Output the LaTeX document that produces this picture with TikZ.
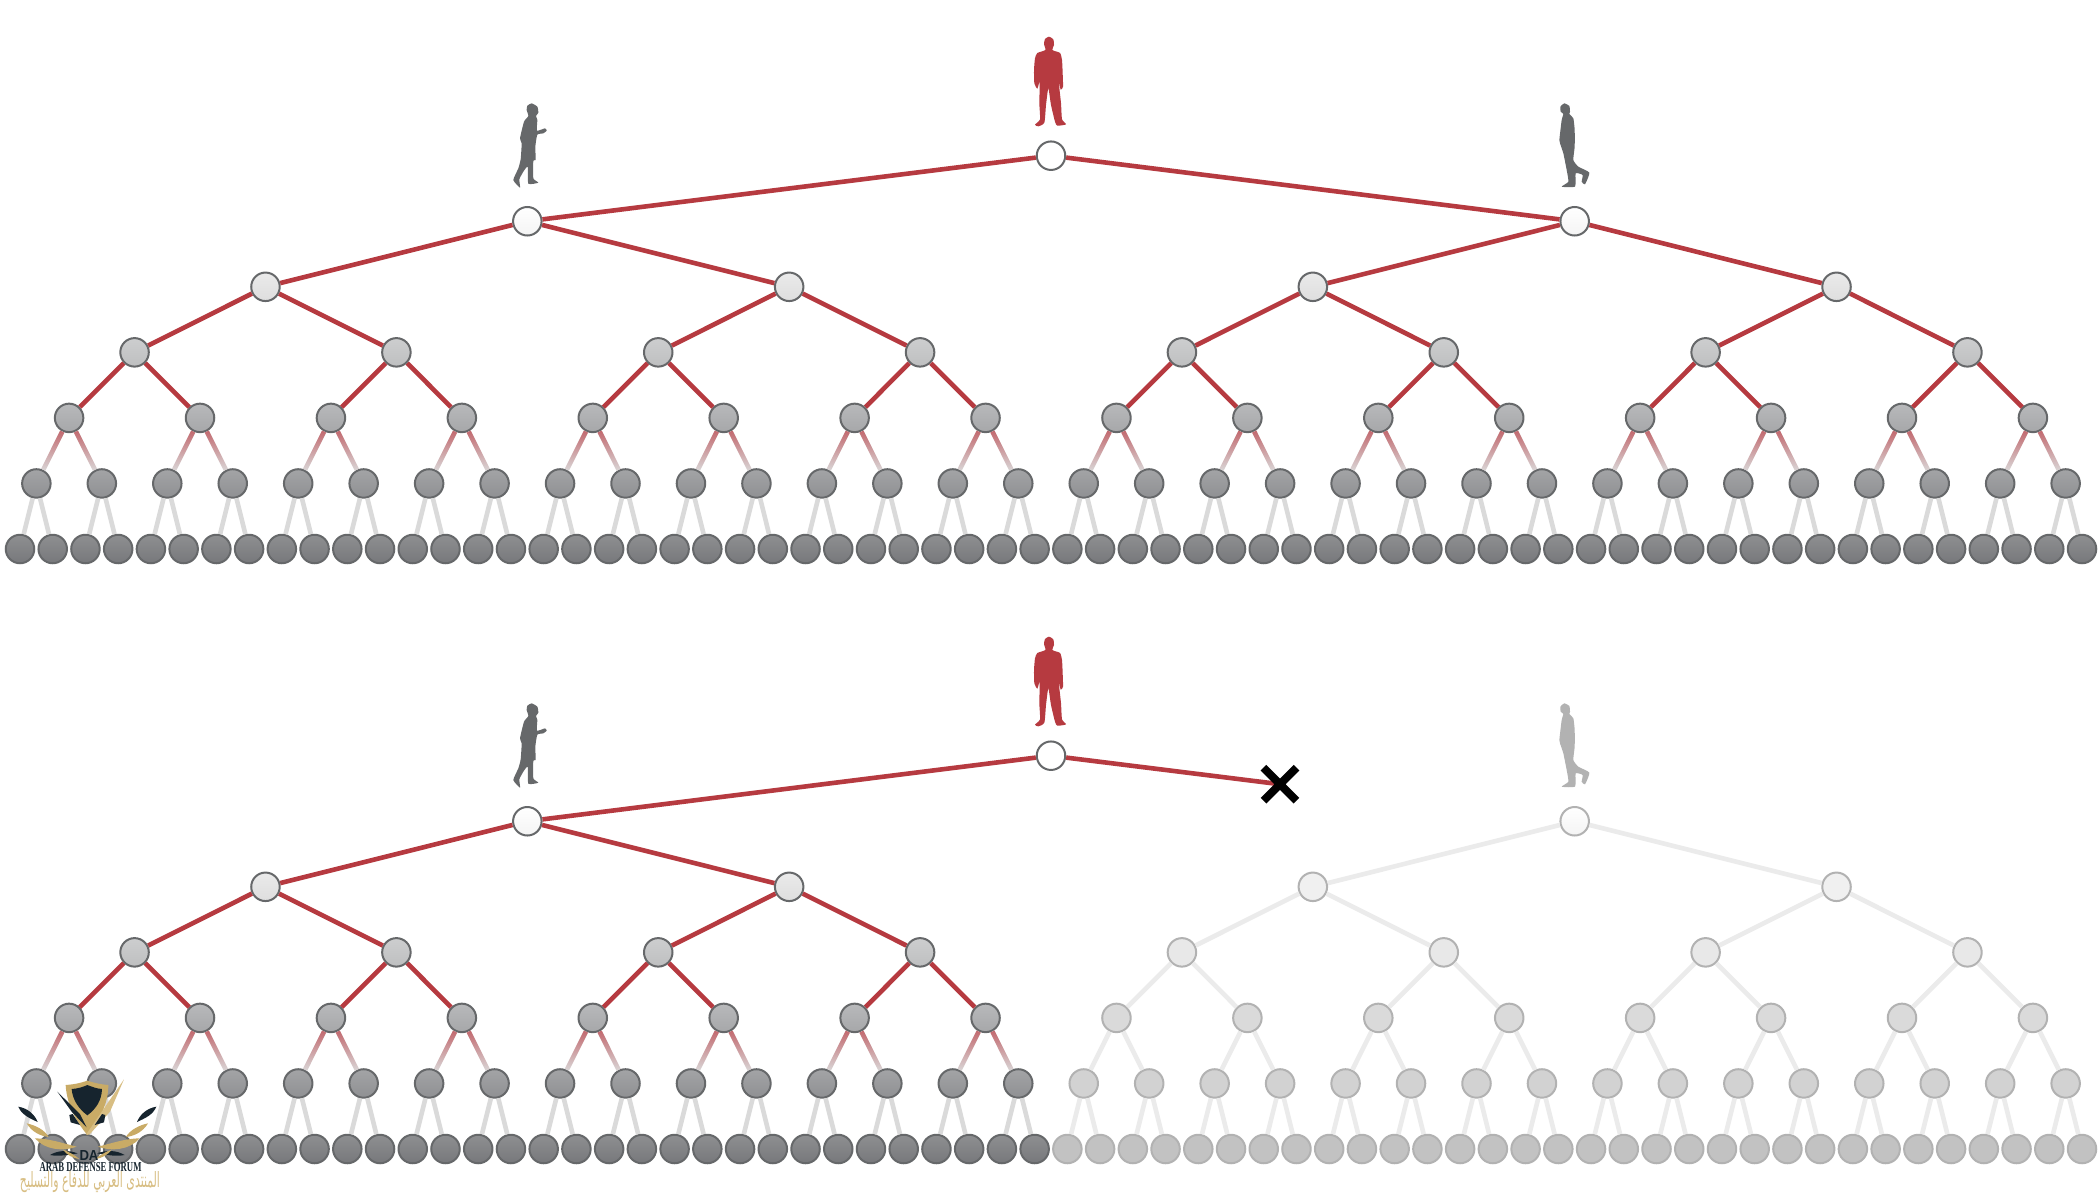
\documentclass[tikz,border=0pt]{standalone}
\usepackage{fontspec}
\usepackage{graphicx}
\usetikzlibrary{fadings,shapes.misc}
\TeXXeTstate=1
\newfontfamily\arabicfont[Script=Arabic]{DejaVu Sans}
\newfontfamily\logoserif{Liberation Serif}
\newfontfamily\logosans{Liberation Sans}
\definecolor{redc}{HTML}{B63A40}
\definecolor{grayline}{HTML}{66686A}
\definecolor{fadeline}{HTML}{B2B2B2}
\definecolor{goldc}{HTML}{C9AB66}
\definecolor{goldl}{HTML}{D8BE83}
\definecolor{navyc}{HTML}{16242E}
\tikzset{
  x=1pt,y=-1pt,
  ndbase/.style={circle,minimum size=28.5pt,inner sep=0pt,line width=2pt,draw=grayline},
  nd0/.style={ndbase,fill=white},
  nd1/.style={ndbase,top color=white,bottom color=F1},
  nd2/.style={ndbase,top color=N2a,bottom color=N2b},
  nd3/.style={ndbase,top color=N3a,bottom color=N3b},
  nd4/.style={ndbase,top color=N4a,bottom color=N4b},
  nd5/.style={ndbase,top color=N5a,bottom color=N5b},
  nd6/.style={ndbase,top color=N6a,bottom color=N6b},
  fdbase/.style={ndbase,draw=fadeline},
  fd1/.style={fdbase,top color=white,bottom color=F1},
  fd2/.style={fdbase,fill=F2},
  fd3/.style={fdbase,fill=F3},
  fd4/.style={fdbase,fill=F4},
  fd5/.style={fdbase,fill=F5},
  fd6/.style={fdbase,fill=F6},
  edgered/.style={line width=4.6pt,draw=redc},
  edgemid/.style={line width=4.6pt,draw=E4},
  edgepale/.style={line width=4.6pt,draw=E5},
  edgefade/.style={line width=4.6pt,draw=Ef},
  manpic/.pic={\begin{scope}[scale=1/3]
    \fill[pic actions] plot[smooth cycle,tension=0.35] coordinates {(207,50) (220,58) (222,75) (217,90) (240,99) (246,120) (248,160) (249,200) (242,209) (236,185) (243,250) (246,298) (258,313) (232,317) (225,305) (213,255) (205,205) (198,255) (193,308) (175,319) (165,314) (180,298) (178,250) (179,185) (172,206) (163,190) (162,150) (165,115) (172,99) (196,90) (192,72) (195,57)};
  \end{scope}},
  womanpic/.pic={\begin{scope}[scale=1/3]
    \fill[pic actions] plot[smooth cycle,tension=0.3] coordinates {(125,40) (142,50) (145,68) (138,78) (142,90) (141,122) (165,115) (170,122) (160,130) (142,134) (136,170) (137,210) (130,212) (130,265) (145,278) (115,281) (113,230) (100,245) (88,268) (90,293) (70,270) (85,235) (92,208) (95,160) (90,145) (102,95) (115,78) (110,60) (112,47)};
  \end{scope}},
  walkerpic/.pic={\begin{scope}[scale=1/3]
    \fill[pic actions] plot[smooth cycle,tension=0.3] coordinates {(103,40) (118,48) (120,65) (118,72) (130,85) (134,120) (134,170) (130,210) (145,230) (178,248) (165,283) (155,275) (158,255) (137,250) (135,290) (95,290) (115,275) (110,240) (100,190) (90,160) (88,150) (95,90) (100,72) (92,65) (91,50)};
  \end{scope}},
}
\definecolor{F1}{HTML}{F4F4F4}
\definecolor{N2a}{HTML}{EAEAEA}\definecolor{N2b}{HTML}{DEDEDE}
\definecolor{N3a}{HTML}{CDCECF}\definecolor{N3b}{HTML}{BEBFC0}
\definecolor{N4a}{HTML}{B8B9BB}\definecolor{N4b}{HTML}{A6A7A9}
\definecolor{N5a}{HTML}{A3A4A6}\definecolor{N5b}{HTML}{8F9093}
\definecolor{N6a}{HTML}{8E8F91}\definecolor{N6b}{HTML}{77787B}
\definecolor{F2}{HTML}{F0F0F0}\definecolor{F3}{HTML}{E8E8E8}
\definecolor{F4}{HTML}{DADADA}\definecolor{F5}{HTML}{D2D2D2}\definecolor{F6}{HTML}{C2C2C2}
\definecolor{E4}{HTML}{C2666C}\definecolor{E5}{HTML}{DADADA}\definecolor{Ef}{HTML}{EBEBEB}
\begin{document}
\begin{tikzpicture}
\useasboundingbox (0,0) rectangle (2100,1194);
\fill[white] (0,0) rectangle (2100,1194);
% nodes
\foreach \tr/\oy in {A/0,B/600}{
  \foreach \lv in {0,...,6}{
    \pgfmathtruncatemacro\nn{2^\lv}
    \pgfmathtruncatemacro\hf{\nn/2}
    \pgfmathtruncatemacro\last{\nn-1}
    \pgfmathsetmacro\spn{64/\nn}
    \pgfmathsetmacro\yy{155.7+65.55*\lv+\oy}
    \foreach \ix in {0,...,\last}{
      \pgfmathsetmacro\xx{20+32.73*((\ix+0.5)*\spn-0.5)}
      \def\pre{nd}
      \if\tr B\ifnum\lv>0 \ifnum\ix<\hf\else\def\pre{fd}\fi\fi\fi
      \node[\pre\lv] (n\tr l\lv i\ix) at (\xx,\yy) {};
    }
  }
}
% connectors
\foreach \tr in {A,B}{
  \foreach \lv in {0,...,5}{
    \pgfmathtruncatemacro\nn{2^\lv}
    \pgfmathtruncatemacro\hf{\nn/2}
    \pgfmathtruncatemacro\last{\nn-1}
    \pgfmathtruncatemacro\lc{\lv+1}
    \foreach \ix in {0,...,\last}{
      \pgfmathtruncatemacro\ca{2*\ix}
      \pgfmathtruncatemacro\cb{2*\ix+1}
      \def\fadeit{0}
      \if\tr B\ifnum\lv>0 \ifnum\ix<\hf\else\def\fadeit{1}\fi\fi\fi
      \foreach \ch in {\ca,\cb}{
        \ifnum\fadeit=1
          \draw[edgefade] (n\tr l\lv i\ix) -- (n\tr l\lc i\ch);
        \else
          \ifnum\lv<4
            \if\tr B\ifnum\lv=0 \ifnum\ch=1 \def\skipit{1}\else\def\skipit{0}\fi\else\def\skipit{0}\fi\else\def\skipit{0}\fi
            \ifnum\skipit=0
              \draw[edgered] (n\tr l\lv i\ix) -- (n\tr l\lc i\ch);
            \fi
          \else
            \ifnum\lv=4
              \draw[edgepale] (n\tr l\lv i\ix) -- (n\tr l\lc i\ch);
              \draw[edgemid,path fading=south] (n\tr l\lv i\ix) -- (n\tr l\lc i\ch);
            \else
              \draw[edgepale] (n\tr l\lv i\ix) -- (n\tr l\lc i\ch);
            \fi
          \fi
        \fi
      }
    }
  }
}
% severed link
\coordinate (xc) at (1280,784.2);
\draw[edgered] (nBl0i0) -- (xc);
\node[cross out,draw=black,line width=8pt,minimum size=33pt,inner sep=0pt,outer sep=0pt] (xmark) at (xc) {};
% figures
\pic[fill=redc] (manA) at (980,20) {manpic};
\pic[fill=redc] (manB) at (980,620) {manpic};
\pic[fill=grayline] (womA) at (490,90) {womanpic};
\pic[fill=grayline] (womB) at (490,690) {womanpic};
\pic[fill=grayline] (walkA) at (1530,90) {walkerpic};
\pic[fill=fadeline] (walkB) at (1530,690) {walkerpic};
% watermark
\begin{scope}[shift={(0,1040)},scale=1/3]
  \fill[goldc] (197,135) .. controls (225,133) and (245,128) .. (262,122) .. controls (280,128) and (300,133) .. (325,135) .. controls (325,190) and (300,240) .. (262,285) .. controls (225,240) and (200,190) .. (197,135) -- cycle;
  \fill[navyc] (215,147) .. controls (235,146) and (250,140) .. (262,135) .. controls (275,140) and (290,146) .. (306,147) .. controls (305,180) and (290,205) .. (262,226) .. controls (235,205) and (218,180) .. (215,147) -- cycle;
  \fill[goldl] (258,284) -- (372,118) -- (330,215) -- (268,284) -- cycle;
  \fill[navyc] (172,155) -- (240,222) -- (260,262) -- (215,215) -- cycle;
  \fill[navyc] (208,225) -- (218,222) -- (240,255) -- (212,247) -- cycle;
  \fill[navyc] (316,225) -- (306,222) -- (284,255) -- (312,247) -- cycle;
  \foreach \sx/\ox in {1/0,-1/524}{
    \begin{scope}[xshift=\ox,xscale=\sx]
      \fill[navyc] (55,200) .. controls (85,205) and (105,225) .. (113,246) .. controls (90,235) and (65,225) .. (55,200) -- cycle;
      \fill[goldc] (80,250) .. controls (105,255) and (135,270) .. (146,291) .. controls (120,288) and (95,275) .. (80,250) -- cycle;
      \fill[goldc] (105,295) .. controls (145,295) and (190,310) .. (230,320) .. controls (190,335) and (135,330) .. (105,295) -- cycle;
      \fill[navyc] (150,345) .. controls (175,330) and (205,330) .. (233,340) .. controls (205,345) and (175,350) .. (150,345) -- cycle;
      \fill[goldc] (188,328) .. controls (205,335) and (225,345) .. (238,357) .. controls (220,355) and (200,345) .. (188,328) -- cycle;
    \end{scope}
  }
\end{scope}
\node[inner sep=0pt,text=navyc] (logoda) at (89,1155) {\resizebox{19pt}{10pt}{\logosans\bfseries DA}};
\node[inner sep=0pt,text=navyc] (logoen) at (90.5,1167) {\resizebox{102pt}{9pt}{\logoserif\bfseries ARAB DEFENSE FORUM}};
\node[inner sep=0pt,text=goldl] (logoar) at (90,1182.5) {\resizebox{140pt}{16pt}{\arabicfont\beginR المنتدى العربي للدفاع والتسليح\endR}};
\end{tikzpicture}
\end{document}
